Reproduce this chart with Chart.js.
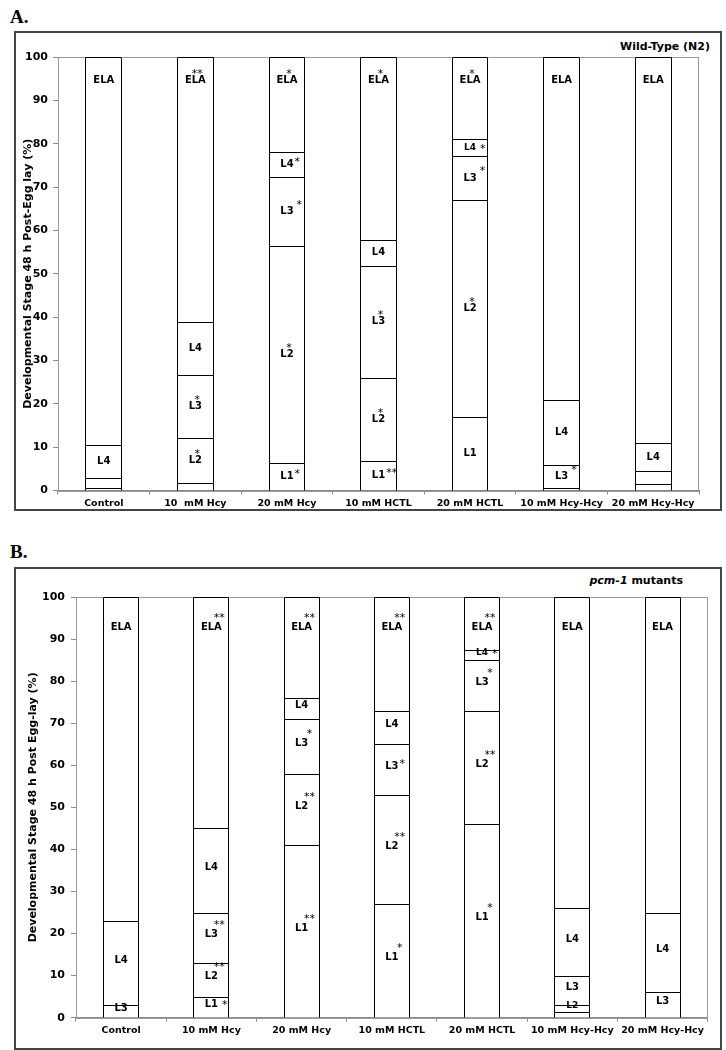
<!DOCTYPE html>
<html>
<head>
<meta charset="utf-8">
<script src="https://cdn.jsdelivr.net/npm/chart.js@4.4.0/dist/chart.umd.min.js"></script>
<style>
  html,body{margin:0;padding:0;background:#fff;}
  body{width:726px;height:1050px;position:relative;overflow:hidden;font-family:"DejaVu Sans",sans-serif;}
  .frame{position:absolute;left:14px;width:708px;border:2px solid #444;box-sizing:border-box;}
  .plabel{position:absolute;left:10px;font-family:"Liberation Serif",serif;font-weight:bold;font-size:19px;line-height:19px;color:#000;}
  .sub{position:absolute;font-family:"DejaVu Sans",sans-serif;font-weight:bold;font-size:11px;line-height:13px;color:#000;white-space:nowrap;}
  canvas{position:absolute;left:15px;}
</style>
</head>
<body>
<div class="plabel" style="top:6.6px;">A.</div>
<div class="frame" style="top:31px;height:480px;"></div>
<div class="sub" style="right:16px;top:39.5px;">Wild-Type (N2)</div>
<canvas id="chartA" width="706" height="478" style="top:32px;"></canvas>

<div class="plabel" style="top:541.6px;">B.</div>
<div class="frame" style="top:567px;height:483px;"></div>
<div class="sub" style="right:43px;top:573.5px;"><i>pcm-1</i> mutants</div>
<canvas id="chartB" width="706" height="479" style="top:569px;"></canvas>

<script>
// ---------- DATA ----------
const stages = ['L1', 'L2', 'L3', 'L4', 'ELA'];

const categoriesA = ['Control', '10  mM Hcy', '20 mM Hcy', '10 mM HCTL', '20 mM HCTL', '10 mM Hcy-Hcy', '20 mM Hcy-Hcy'];
const categoriesB = ['Control', '10 mM Hcy', '20 mM Hcy', '10 mM HCTL', '20 mM HCTL', '10 mM Hcy-Hcy', '20 mM Hcy-Hcy'];

const yTicks = [0, 10, 20, 30, 40, 50, 60, 70, 80, 90, 100];

// Panel A: Wild-Type (N2), % of worms at each stage
const A_L1  = [0,    1.7,  6.3,  6.7,  17.0, 0,    0];
const A_L2  = [0.5,  10.3, 50.1, 19.3, 50.1, 0.5,  1.5];
const A_L3  = [2.3,  14.6, 16.0, 25.9, 10.0, 5.3,  2.9];
const A_L4  = [7.7,  12.3, 5.7,  6.0,  4.0,  15.1, 6.6];
const A_ELA = [89.5, 61.1, 21.9, 42.1, 18.9, 79.1, 89.0];

// Panel B: pcm-1 mutants
const B_L1  = [0,  5,  41, 27, 46,   1.4, 0];
const B_L2  = [0,  8,  17, 26, 27,   1.6, 0];
const B_L3  = [3,  12, 13, 12, 12,   7,   6];
const B_L4  = [20, 20, 5,  8,  2.3,  16,  19];
const B_ELA = [77, 55, 24, 27, 12.7, 74,  75];

// Significance marks per segment label (null = no label shown)
const A_marks = {
  L1:  [null, null, '*',  '**', '',   null, null],
  L2:  [null, '*',  '*',  '*',  '*',  null, null],
  L3:  [null, '*',  '*',  '*',  '*',  '*',  null],
  L4:  ['',   '',   '*',  '',   '*',  '',   ''],
  ELA: ['',   '**', '*',  '*',  '*',  '',   '']
};
const B_marks = {
  L1:  [null, '*',  '**', '*',  '*',  null, null],
  L2:  [null, '**', '**', '**', '**', '',   null],
  L3:  ['',   '**', '*',  '*',  '*',  '',   ''],
  L4:  ['',   '',   '',   '',   '*',  '',   ''],
  ELA: ['',   '**', '**', '**', '**', '',   '']
};

// ---------- STYLE / PLOTTING ----------
const FONT = '"DejaVu Sans", sans-serif';

const framePlugin = {
  id: 'plotFrame',
  beforeDatasetsDraw(chart) {
    const a = chart.chartArea, ctx = chart.ctx;
    ctx.save();
    ctx.strokeStyle = '#9a9a9a';
    ctx.lineWidth = 1;
    ctx.strokeRect(Math.round(a.left) + 0.5, Math.round(a.top) + 0.5,
                   Math.round(a.right - a.left) - 1, Math.round(a.bottom - a.top));
    ctx.restore();
  }
};

// crisp 1px outlines for each stacked segment, taken from the bar elements
const outlinePlugin = {
  id: 'segOutline',
  afterDatasetsDraw(chart) {
    const ctx = chart.ctx;
    ctx.save();
    ctx.strokeStyle = '#000';
    ctx.lineWidth = 1;
    stages.forEach((st, di) => {
      const meta = chart.getDatasetMeta(di);
      meta.data.forEach((el) => {
        if (Math.abs(el.base - el.y) < 0.3) return;
        const x0 = Math.round(el.x - el.width / 2) + 0.5;
        const x1 = Math.round(el.x + el.width / 2) - 0.5;
        const t = Math.round(el.y) + 0.5;
        const b = Math.round(el.base) + 0.5;
        ctx.beginPath();
        ctx.moveTo(x0, b); ctx.lineTo(x0, t); ctx.lineTo(x1, t); ctx.lineTo(x1, b);
        ctx.stroke();
      });
    });
    ctx.restore();
  }
};

const labelPlugin = {
  id: 'stageLabels',
  afterDatasetsDraw(chart, args, opts) {
    const ctx = chart.ctx;
    ctx.save();
    ctx.fillStyle = '#000';
    stages.forEach((st, di) => {
      const meta = chart.getDatasetMeta(di);
      meta.data.forEach((el, ci) => {
        const mk = opts.marks[st][ci];
        if (mk === null || mk === undefined) return;
        const key = ci + ':' + st;
        const fs = opts.small.includes(key) ? 9 : 10;
        ctx.font = 'bold ' + fs + 'px ' + FONT;
        ctx.textAlign = 'center';
        ctx.textBaseline = 'middle';
        const cx = el.x;
        const cy = st === 'ELA' ? el.y + opts.elaOffset : (el.y + el.base) / 2 + opts.shift;
        ctx.fillText(st, cx, cy);
        if (mk) {
          const hw = ctx.measureText(st).width / 2;
          ctx.font = '11px ' + FONT;
          const mw = ctx.measureText(mk).width;
          const mode = opts.place[key] || opts.defPlace;
          let mx, my;
          if (mode === 'a') { mx = cx + 2; my = cy - 10; }
          else if (mode === 'r') { mx = cx + hw + 1 + mw / 2; my = cy - 6; }
          else if (mode === 'R') { mx = cx + hw + 3 + mw / 2; my = cy - 10; }
          else if (mode === 'i') { mx = cx + hw + 4 + mw / 2; my = cy - 2; }
          else { mx = cx + 8; my = cy - 13; }
          ctx.textAlign = 'center';
          ctx.textBaseline = 'alphabetic';
          ctx.fillText(mk, mx, my + 6.5);
        }
      });
    });
    ctx.restore();
  }
};

function buildChart(id, cats, series, marks, cfg) {
  return new Chart(document.getElementById(id), {
    type: 'bar',
    data: {
      labels: cats,
      datasets: stages.map((s, i) => ({
        label: s,
        data: series[i],
        backgroundColor: '#ffffff',
        borderColor: '#000000',
        borderWidth: 0,
        inflateAmount: 0,
        categoryPercentage: 0.8,
        barPercentage: 0.5
      }))
    },
    options: {
      responsive: false,
      animation: false,
      devicePixelRatio: 1,
      layout: { padding: { left: 0, top: cfg.padTop, right: cfg.padRight, bottom: cfg.padBottom } },
      plugins: {
        legend: { display: false },
        tooltip: { enabled: false },
        stageLabels: { marks: marks, small: cfg.small, place: cfg.place, defPlace: cfg.defPlace,
                       elaOffset: cfg.elaOffset, shift: cfg.shift }
      },
      scales: {
        x: {
          stacked: true,
          grid: { display: true, drawOnChartArea: false, drawTicks: true, tickLength: 4, color: '#8a8a8a', offset: true },
          border: { display: true, color: '#8a8a8a', width: 1 },
          ticks: { color: '#000', font: { family: FONT, size: 9.5, weight: 'bold' }, padding: 3,
                   maxRotation: 0, minRotation: 0, autoSkip: false },
          afterFit(s) { s.height = cfg.xH; }
        },
        y: {
          stacked: true,
          min: 0, max: 100,
          afterBuildTicks(s) { s.ticks = yTicks.map(v => ({ value: v })); },
          ticks: { color: '#000', font: { family: FONT, size: 11, weight: 'bold' }, padding: cfg.yPad },
          grid: { display: true, drawOnChartArea: false, drawTicks: true, tickLength: 5, color: '#8a8a8a' },
          border: { display: true, color: '#8a8a8a', width: 1 },
          title: { display: true, text: cfg.yTitle, color: '#000',
                   font: { family: FONT, size: 11, weight: 'bold' }, padding: { top: cfg.titlePad, bottom: 0 } },
          afterFit(s) { s.width = cfg.yW; }
        }
      }
    },
    plugins: [framePlugin, outlinePlugin, labelPlugin]
  });
}

buildChart('chartA', categoriesA, [A_L1, A_L2, A_L3, A_L4, A_ELA], A_marks, {
  padTop: 25, padRight: 22, padBottom: 0, xH: 19.5, yW: 43, yPad: 5, titlePad: 6.4,
  yTitle: 'Developmental Stage 48 h Post-Egg lay (%)',
  elaOffset: 23, shift: 0, defPlace: 'a',
  small: ['4:L4'],
  place: { '2:L4': 'r', '2:L3': 'R', '2:L1': 'r', '3:L1': 'r', '4:L4': 'i', '4:L3': 'R', '5:L3': 'R' }
});

buildChart('chartB', categoriesB, [B_L1, B_L2, B_L3, B_L4, B_ELA], B_marks, {
  padTop: 28, padRight: 13.3, padBottom: 10, xH: 20.3, yW: 61, yPad: 6, titlePad: 11.4,
  yTitle: 'Developmental Stage 48 h Post Egg-lay (%)',
  elaOffset: 30, shift: -3, defPlace: 'u',
  small: ['4:L4', '5:L2'],
  place: { '1:L1': 'i', '3:L3': 'r', '4:L4': 'i' }
});
</script>
</body>
</html>
